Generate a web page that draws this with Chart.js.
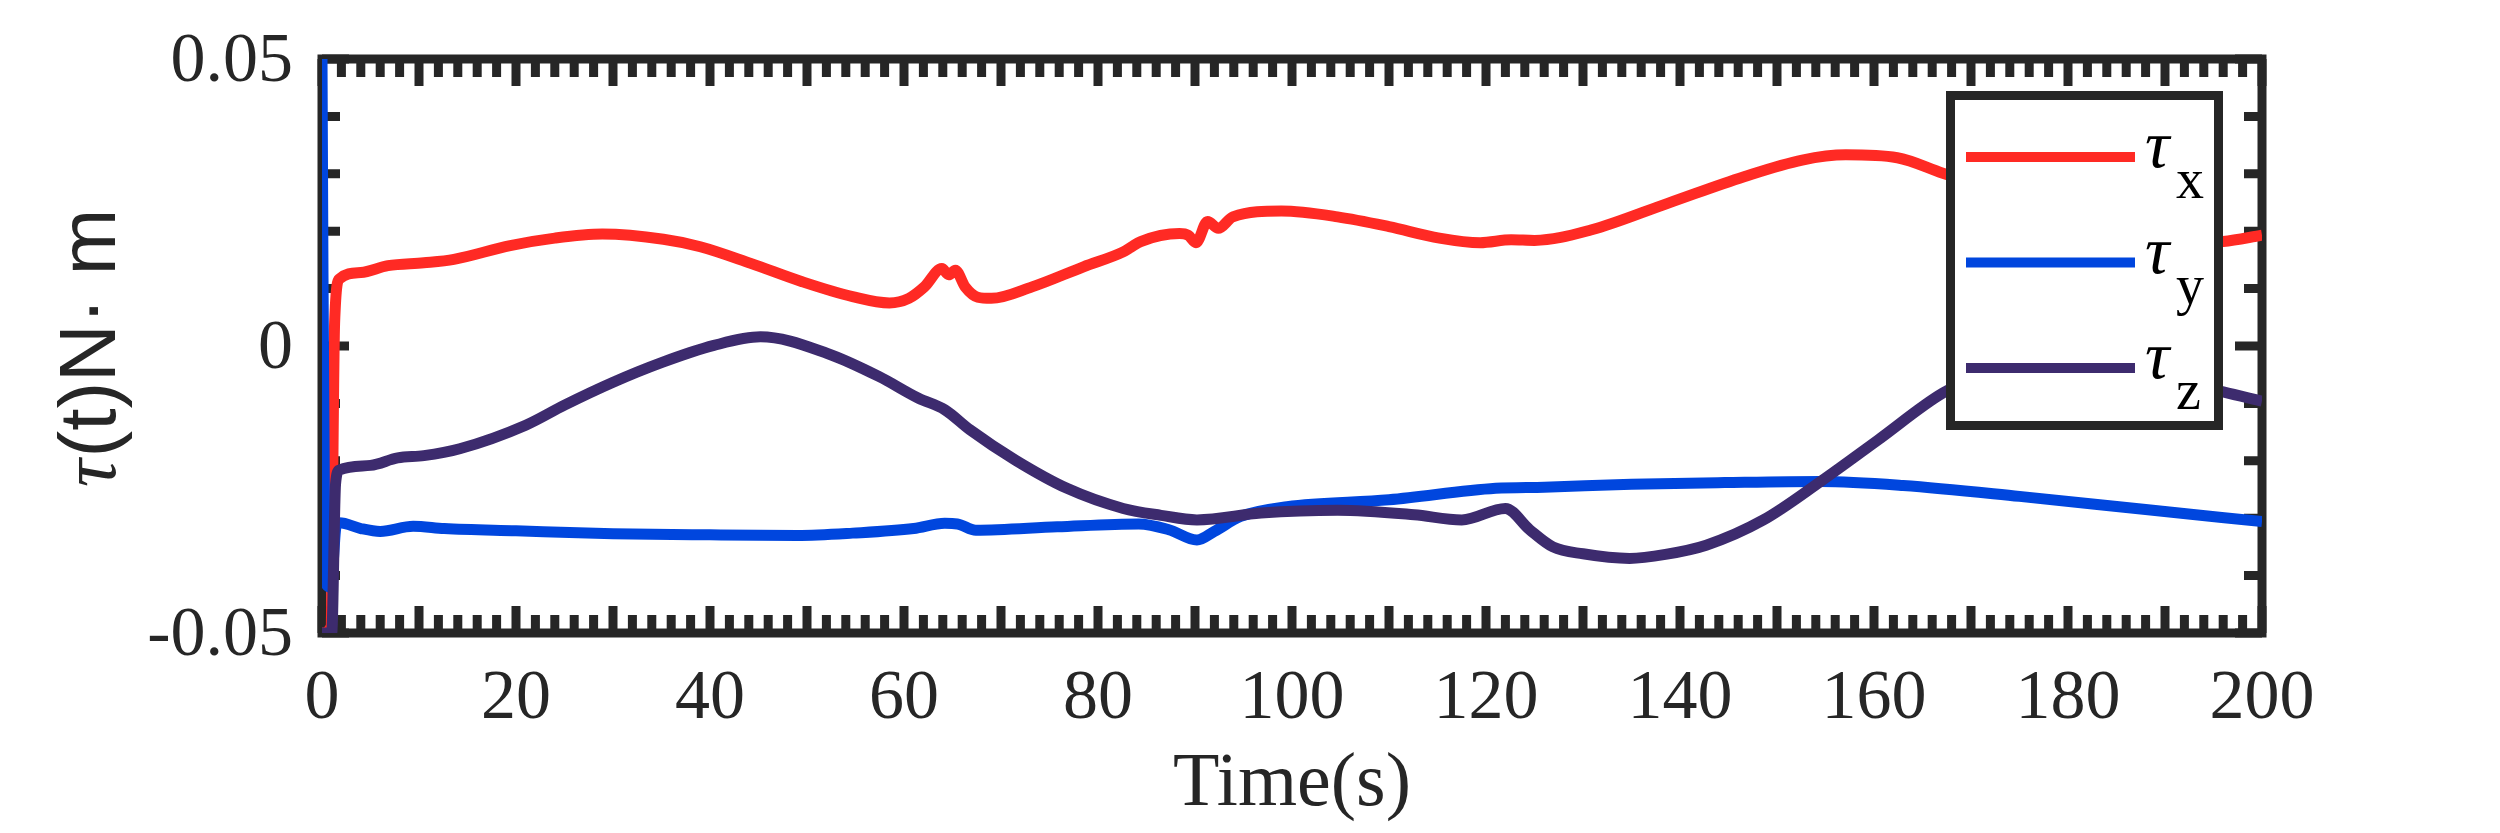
<!DOCTYPE html>
<html>
<head>
<meta charset="utf-8">
<script src="https://cdn.jsdelivr.net/npm/chart.js@4.4.1/dist/chart.umd.min.js"></script>
<style>
html, body { margin: 0; padding: 0; background: #fff; }
#wrap { width: 2500px; height: 833px; }
</style>
</head>
<body>
<div id="wrap"><canvas id="myChart" width="2500" height="833"></canvas></div>
<script>
// series (time in s, torque in N.m)
var tauXTime = [0, 0.9, 1.3, 1.8, 4, 6.8, 10.5, 13.6, 19.4, 24, 28.9, 35.2, 39, 44.2, 49.5, 54.7, 58.5, 60.5, 62.1, 63.9, 64.6, 65.3, 66.3, 67.6, 69, 73.2, 78.5, 82.6, 83.4, 84.4, 88.4, 89.3, 90.1, 91.3, 92.4, 93.9, 98.9, 104.7, 110, 115.2, 119.4, 122.6, 125, 130.8, 138.8, 146.6, 152.6, 157.1, 162.4, 167.1, 172, 177, 182, 187, 191, 194, 196, 200];
var tauXValues = [-0.05, -0.049, 0.004, 0.0117, 0.0128, 0.014, 0.0145, 0.0151, 0.0175, 0.0188, 0.0195, 0.0186, 0.0173, 0.0144, 0.0112, 0.0086, 0.0075, 0.0083, 0.0103, 0.0135, 0.0124, 0.0132, 0.0103, 0.0085, 0.0083, 0.0103, 0.0138, 0.0164, 0.0172, 0.0182, 0.0196, 0.0193, 0.018, 0.0217, 0.0205, 0.0225, 0.0235, 0.0225, 0.0208, 0.0188, 0.018, 0.0185, 0.0184, 0.0202, 0.0249, 0.0295, 0.0324, 0.0333, 0.0328, 0.0301, 0.0275, 0.0248, 0.022, 0.0198, 0.0185, 0.018, 0.0182, 0.0193];

var tauYTime = [0, 0.3, 0.9, 1.5, 1.8, 4, 6, 9.4, 12.6, 20, 30, 40, 49, 54.7, 61, 64.2, 65.5, 67.4, 75.8, 84.2, 87.3, 90.2, 92, 94.7, 99.5, 110, 121, 126, 135, 144.6, 154.5, 163, 175, 188, 200];
var tauYValues = [0.05, -0.041, -0.042, -0.031, -0.0308, -0.0318, -0.0323, -0.0314, -0.0318, -0.0322, -0.0327, -0.0329, -0.033, -0.0326, -0.0318, -0.0309, -0.031, -0.0321, -0.0315, -0.031, -0.032, -0.0338, -0.0323, -0.0297, -0.028, -0.0268, -0.0248, -0.0246, -0.0241, -0.0238, -0.0236, -0.0243, -0.0262, -0.0285, -0.0306];

var tauZTime = [0, 1.0, 1.4, 1.8, 5, 7.8, 10.5, 14.2, 21, 25, 29.9, 35, 40.4, 45.2, 52.1, 57.4, 61.5, 64.2, 66.8, 71.5, 76.8, 82.6, 86.5, 90.2, 96.8, 104.7, 112.6, 117.5, 122, 124.5, 126.9, 130, 134.8, 138.5, 142.7, 148.6, 154.5, 160.4, 167.1, 172, 177, 182, 187, 192, 196, 200];
var tauZValues = [-0.05, -0.05, -0.024, -0.0216, -0.0208, -0.0195, -0.0191, -0.0179, -0.0138, -0.0103, -0.0064, -0.0029, 0.0001, 0.0016, -0.0013, -0.0053, -0.0091, -0.0111, -0.0146, -0.0199, -0.0248, -0.0283, -0.0295, -0.0303, -0.0291, -0.0286, -0.0294, -0.0303, -0.0283, -0.032, -0.035, -0.0362, -0.037, -0.0363, -0.0347, -0.0303, -0.0236, -0.0164, -0.0082, -0.0045, -0.0032, -0.003, -0.0042, -0.0062, -0.008, -0.0096];

var seriesLabels = ['τx', 'τy', 'τz'];
var seriesColors = ['#FF2A24', '#0046DE', '#3D2B6E'];

var xTickLabels = [0, 20, 40, 60, 80, 100, 120, 140, 160, 180, 200];
var yTickLabels = [-0.05, 0, 0.05];
var xTitle = 'Time(s)';
var yTitleSymbol = 'τ';
var yTitleRest = '(t)N· m';

var axisColor = '#262626';

function toPoints(t, v) {
    var pts = [];
    for (var i = 0; i < t.length; i++) pts.push({x: t[i], y: v[i]});
    return pts;
}

// box with inward ticks on all four sides (drawn under the lines)
var boxPlugin = {
    id: 'boxTicks',
    beforeDatasetsDraw: function(chart) {
        var ctx = chart.ctx, a = chart.chartArea;
        var xs = chart.scales.x, ys = chart.scales.y;
        ctx.save();
        ctx.strokeStyle = axisColor;
        ctx.lineWidth = 9;
        ctx.lineCap = 'butt';
        ctx.beginPath();
        var t, px, len;
        for (t = 0; t <= 200; t += 2) {
            px = xs.getPixelForValue(t);
            len = (t % 10 === 0) ? 27 : 18;
            ctx.moveTo(px, a.bottom); ctx.lineTo(px, a.bottom - len);
            ctx.moveTo(px, a.top); ctx.lineTo(px, a.top + len);
        }
        for (var k = -5; k <= 5; k++) {
            var py = ys.getPixelForValue(k / 100);
            len = (k % 5 === 0) ? 27 : 18;
            ctx.moveTo(a.left, py); ctx.lineTo(a.left + len, py);
            ctx.moveTo(a.right, py); ctx.lineTo(a.right - len, py);
        }
        ctx.stroke();
        ctx.lineJoin = 'miter';
        ctx.strokeRect(a.left, a.top, a.right - a.left, a.bottom - a.top);
        ctx.restore();
    }
};

// y axis title: italic tau followed by upright sans text
var yTitlePlugin = {
    id: 'yTitle',
    afterDraw: function(chart) {
        var ctx = chart.ctx, a = chart.chartArea;
        var symFont = 'italic 78px "Liberation Serif"';
        var restFont = '80px "Liberation Sans"';
        ctx.save();
        ctx.translate(115, (a.top + a.bottom) / 2 + 3);
        ctx.rotate(-Math.PI / 2);
        ctx.fillStyle = axisColor;
        ctx.textBaseline = 'alphabetic';
        ctx.textAlign = 'left';
        ctx.font = symFont;
        var w1 = ctx.measureText(yTitleSymbol).width;
        ctx.font = restFont;
        var w2 = ctx.measureText(yTitleRest).width;
        var x0 = -(w1 + w2) / 2;
        ctx.font = symFont;
        ctx.fillText(yTitleSymbol, x0, 0);
        ctx.font = restFont;
        ctx.fillText(yTitleRest, x0 + w1 + 2, 0);
        ctx.restore();
    }
};

// boxed legend inside the top right corner, tau with subscript
var legendPlugin = {
    id: 'boxLegend',
    afterDraw: function(chart) {
        var ctx = chart.ctx, a = chart.chartArea;
        var left = a.right - 316, right = a.right - 39;
        var top = a.top + 32, bottom = a.top + 371;
        ctx.save();
        ctx.fillStyle = '#fff';
        ctx.fillRect(left, top, right - left, bottom - top);
        ctx.strokeStyle = axisColor;
        ctx.lineWidth = 9;
        ctx.strokeRect(left + 4.5, top + 4.5, right - left - 9, bottom - top - 9);
        var ds = chart.data.datasets;
        for (var i = 0; i < ds.length; i++) {
            var rowY = top + 66 + i * 105.5;
            ctx.strokeStyle = ds[i].borderColor;
            ctx.lineWidth = 10;
            ctx.beginPath();
            ctx.moveTo(left + 20, rowY);
            ctx.lineTo(left + 189, rowY);
            ctx.stroke();
            ctx.fillStyle = '#000';
            ctx.textAlign = 'left';
            ctx.textBaseline = 'alphabetic';
            ctx.font = 'italic 68px "Liberation Serif"';
            ctx.fillText(ds[i].label.charAt(0), left + 199, rowY + 10);
            ctx.font = '56px "Liberation Serif"';
            ctx.fillText(ds[i].label.slice(1), left + 230, rowY + 41);
        }
        ctx.restore();
    }
};

var datasets = [];
var times = [tauXTime, tauYTime, tauZTime];
var values = [tauXValues, tauYValues, tauZValues];
for (var i = 0; i < 3; i++) {
    datasets.push({
        label: seriesLabels[i],
        data: toPoints(times[i], values[i]),
        borderColor: seriesColors[i],
        backgroundColor: seriesColors[i],
        borderWidth: 11,
        pointRadius: 0,
        fill: false,
        cubicInterpolationMode: 'monotone',
        order: 2 - i
    });
}

var ctx = document.getElementById('myChart').getContext('2d');
var myChart = new Chart(ctx, {
    type: 'line',
    data: { datasets: datasets },
    options: {
        responsive: false,
        animation: false,
        devicePixelRatio: 1,
        layout: { padding: { top: 59, right: 238, bottom: 0, left: 0 } },
        plugins: { legend: { display: false }, tooltip: { enabled: false } },
        scales: {
            x: {
                type: 'linear',
                min: 0,
                max: 200,
                grid: { display: false, drawTicks: false },
                border: { display: false },
                afterBuildTicks: function(s) { s.ticks = xTickLabels.map(function(v) { return {value: v}; }); },
                afterFit: function(s) { s.height = 200; },
                ticks: {
                    autoSkip: false,
                    maxRotation: 0,
                    padding: 25,
                    color: axisColor,
                    font: { family: 'Liberation Serif', size: 70 }
                },
                title: {
                    display: true,
                    text: xTitle,
                    color: axisColor,
                    padding: { top: 0, bottom: 2 },
                    font: { family: 'Liberation Serif', size: 76 }
                }
            },
            y: {
                type: 'linear',
                min: -0.05,
                max: 0.05,
                grid: { display: false, drawTicks: false },
                border: { display: false },
                afterBuildTicks: function(s) { s.ticks = yTickLabels.map(function(v) { return {value: v}; }); },
                afterFit: function(s) {
                    s.width = 322;
                    // keep the plot top fixed; labels may overhang the padding
                    s.paddingTop = 0;
                    s.paddingBottom = 0;
                },
                ticks: {
                    autoSkip: false,
                    padding: 29,
                    labelOffset: 4,
                    color: axisColor,
                    font: { family: 'Liberation Serif', size: 70 },
                    callback: function(v) { return v === 0 ? '0' : v.toFixed(2); }
                }
            }
        }
    },
    plugins: [boxPlugin, yTitlePlugin, legendPlugin]
});
</script>
</body>
</html>
